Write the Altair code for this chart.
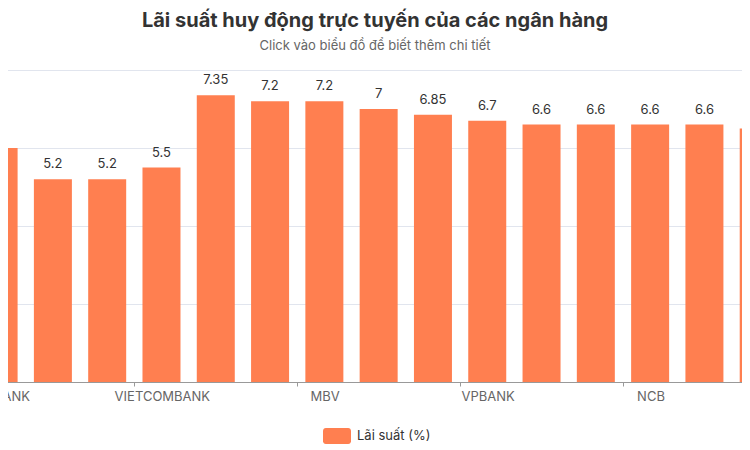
import altair as alt
import pandas as pd

# bank names (only every third one is labelled on the axis)
banks = [
    "SEABANK", "AGRIBANK", "BIDV", "VIETCOMBANK", "CAKE", "BAOVIETBANK",
    "MBV", "VIKKI BANK", "BVBANK", "VPBANK", "OCEANBANK", "KIENLONGBANK",
    "NCB", "PVCOMBANK", "HDBANK",
]
rates = [6.0, 5.2, 5.2, 5.5, 7.35, 7.2, 7.2, 7.0, 6.85, 6.7, 6.6, 6.6, 6.6, 6.6, 6.5]
series_name = "Lãi suất (%)"

df = pd.DataFrame({"bank": banks, "rate": rates})
df["idx"] = range(len(df))
df["series"] = series_name

FONT = "Inter"
ORANGE = "#ff7f50"

# scrolled plot window: the plot starts left of the page, so the first and
# last bars are cut off like in the original scrollable chart
LEFT_HIDDEN = 45
x_domain = [(8 - LEFT_HIDDEN + 6) / 55, 748 / 55]
name_lookup = "[" + ",".join(f"'{b}'" for b in banks) + "]"

x = alt.X(
    "idx:Q",
    scale=alt.Scale(domain=x_domain, nice=False, zero=False),
    axis=alt.Axis(
        values=[-0.5, 2.5, 5.5, 8.5, 11.5],
        labelExpr=f"{name_lookup}[round(datum.value + 0.5)]",
        labelOffset=27.5,
        labelFlush=False,
        labelOverlap=False,
        labelFont=FONT,
        labelFontSize=13,
        labelColor="#666666",
        labelPadding=4,
        tickSize=4,
        tickColor="#999999",
        domainColor="#999999",
        grid=False,
        title=None,
    ),
)
y = alt.Y(
    "rate:Q",
    scale=alt.Scale(domain=[0, 8], nice=False),
    axis=alt.Axis(
        values=list(range(9)),
        labels=False,
        ticks=False,
        domain=False,
        grid=True,
        gridColor="#e1e5ee",
        title=None,
    ),
)

legend_shape = (
    "M-0.8,-0.57 H0.8 A0.2,0.2 0 0 1 1,-0.37 V0.37 A0.2,0.2 0 0 1 0.8,0.57 "
    "H-0.8 A0.2,0.2 0 0 1 -1,0.37 V-0.37 A0.2,0.2 0 0 1 -0.8,-0.57 Z"
)

bars = alt.Chart(df).mark_bar(size=38, clip=True).encode(
    x=x,
    y=y,
    color=alt.Color(
        "series:N",
        scale=alt.Scale(domain=[series_name], range=[ORANGE]),
        legend=alt.Legend(
            title=None,
            orient="none",
            legendX=323 - 8 + LEFT_HIDDEN,
            legendY=352,
            symbolType=legend_shape,
            symbolSize=784,
            symbolStrokeWidth=0,
            symbolOpacity=1,
            labelFont=FONT,
            labelFontSize=13,
            labelColor="#333333",
            labelOffset=6,
            padding=0,
        ),
    ),
)

labels = alt.Chart(df).mark_text(
    dy=-8, baseline="bottom", fontSize=13, font=FONT, color="#333333", clip=True
).encode(x="idx:Q", y="rate:Q", text=alt.Text("rate:Q", format="~g"))

chart = (
    alt.layer(bars, labels)
    .properties(
        width=734 + LEFT_HIDDEN,
        height=312,
        autosize=alt.AutoSizeParams(type="none"),
        padding={"left": -LEFT_HIDDEN, "top": 62, "right": 0, "bottom": 63},
        title=alt.TitleParams(
            text="Lãi suất huy động trực tuyến của các ngân hàng",
            subtitle="Click vào biểu đồ để biết thêm chi tiết",
            font=FONT,
            fontSize=20,
            fontWeight="bold",
            color="#333333",
            subtitleFont=FONT,
            subtitleFontSize=13,
            subtitleColor="#666666",
            subtitlePadding=9,
            anchor="middle",
            dx=LEFT_HIDDEN / 2,
            offset=17,
        ),
    )
    .configure_view(stroke=None)
)

chart.save("out.html", embed_options={"renderer": "svg", "actions": False})
